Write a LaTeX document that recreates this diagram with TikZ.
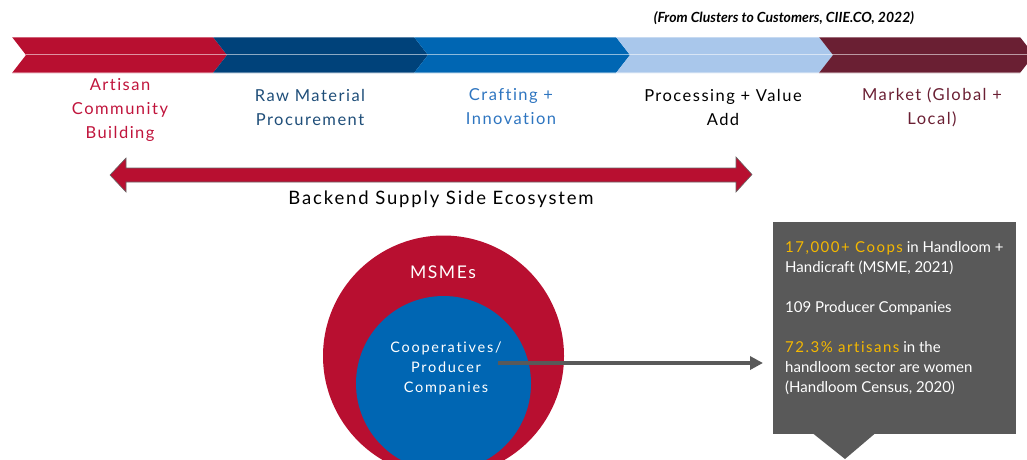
\documentclass[tikz,border=0pt]{standalone}
\usepackage{fontspec}
\setmainfont{Lato}[RawFeature=-liga]
\usetikzlibrary{arrows.meta}
\definecolor{cred}{HTML}{B80F30}
\definecolor{cdblue}{HTML}{00427A}
\definecolor{cblue}{HTML}{0066B3}
\definecolor{clblue}{HTML}{A9C7EB}
\definecolor{cmaroon}{HTML}{6A1F33}
\definecolor{tred}{HTML}{C0143C}
\definecolor{tdblue}{HTML}{1F4E79}
\definecolor{tblue}{HTML}{2E75C0}
\definecolor{tmaroon}{HTML}{6A1F33}
\definecolor{cgrey}{HTML}{595959}
\definecolor{cyellow}{HTML}{F5B800}
\newcommand\hl[1]{\textcolor{cyellow}{\addfontfeatures{LetterSpace=10}#1}}
\tikzset{
  chevlabel/.style={align=center, font=\fontsize{16.5}{24}\selectfont\addfontfeatures{LetterSpace=9}},
  boxline/.style={anchor=base west, inner sep=0, text=white, font=\fontsize{15}{20}\selectfont},
  circtext/.style={text=white, align=center},
}
\begin{document}
\begin{tikzpicture}[x=1pt,y=-1pt]
\useasboundingbox (0,0) rectangle (1027,459);

% chevrons
\fill[cred]    (12,37) -- (213,37) -- (227,55) -- (213,73) -- (12,73) -- (26,55) -- cycle;
\fill[cdblue]  (213,37) -- (414,37) -- (428,55) -- (414,73) -- (213,73) -- (227,55) -- cycle;
\fill[cblue]   (414,37) -- (616,37) -- (630,55) -- (616,73) -- (414,73) -- (428,55) -- cycle;
\fill[clblue]  (616,37) -- (819,37) -- (833,55) -- (819,73) -- (616,73) -- (630,55) -- cycle;
\fill[cmaroon] (819,37) -- (1020,37) -- (1034,55) -- (1020,73) -- (819,73) -- (833,55) -- cycle;
\draw[white, opacity=0.55, line width=1.6] (26,54.5) -- (1027,54.5);
\draw[white, opacity=0.35, line width=0.8] (12,37.4) -- (1027,37.4) (12,72.6) -- (1027,72.6);

% citation
\node[anchor=base, font=\fontsize{14}{16}\selectfont\bfseries\itshape] (cite) at (784,22) {(From Clusters to Customers, CIIE.CO, 2022)};

% labels
\node[chevlabel, text=tred] (l1) at (120,110) {Artisan\\Community\\Building};
\node[chevlabel, text=tdblue] (l2) at (310,107) {Raw Material\\Procurement};
\node[chevlabel, text=tblue] (l3) at (511,107) {Crafting +\\Innovation};
\node[chevlabel, text=black] (l4) at (723,107) {Processing + Value\\Add};
\node[chevlabel, text=tmaroon] (l5) at (932,107) {Market (Global +\\Local)};

% double arrow
\filldraw[fill=cred, draw=gray!80!black, line width=0.6]
  (110,175) -- (126,158) -- (126,168) -- (736,168) -- (736,157) -- (752,174.5)
  -- (736,192) -- (736,182) -- (126,182) -- (126,192) -- cycle;
\node[font=\fontsize{18.5}{22}\selectfont\addfontfeatures{LetterSpace=10}] (backend) at (441,199) {Backend Supply Side Ecosystem};

% circles
\node[circle, fill=cred, minimum size=241, inner sep=0, outer sep=0] (msme) at (443.5,356) {};
\node[circle, fill=cblue, minimum size=175, inner sep=0, outer sep=0] (coop) at (443.5,383.5) {};
\node[circtext, font=\fontsize{17.5}{20}\selectfont\addfontfeatures{LetterSpace=9}] (msmetext) at (443,272) {MSMEs};
\node[circtext, font=\fontsize{14.5}{20}\selectfont\addfontfeatures{LetterSpace=12}] (cooptext) at (446,368) {Cooperatives/\\Producer\\Companies};

% callout
\node[fill=cgrey, minimum width=243, minimum height=212, inner sep=0, outer sep=0] (callout) at (894.5,328) {};
\fill[cgrey] (813,433.5) -- (875,433.5) -- (845,459) -- cycle;
\coordinate (arrstart) at (498,363);
\coordinate (arrend) at ([xshift=-10]callout.west |- arrstart);
\draw[cgrey, line width=4, -{Triangle[length=13pt, width=13pt]}] (arrstart) -- (arrend);

\node[boxline] (t1) at (785,252) {\hl{17,000+ Coops} in Handloom +};
\node[boxline] (t2) at (785,272) {Handicraft (MSME, 2021)};
\node[boxline] (t3) at (785,312) {109 Producer Companies};
\node[boxline] (t4) at (785,352) {\hl{72.3\% artisans} in the};
\node[boxline] (t5) at (785,372) {handloom sector are women};
\node[boxline] (t6) at (785,392) {(Handloom Census, 2020)};
\end{tikzpicture}
\end{document}
